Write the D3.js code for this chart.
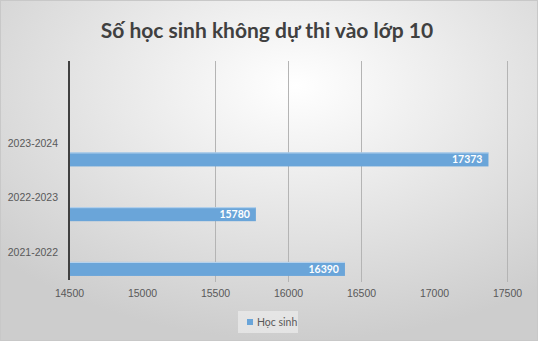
<!DOCTYPE html>
<html>
<head>
<meta charset="utf-8">
<script src="https://cdn.jsdelivr.net/npm/d3@7"></script>
<style>
  body { margin: 0; }
  svg { display: block; font-family: Lato, "Open Sans", sans-serif; }
</style>
</head>
<body>
<svg id="chart"></svg>
<script>
// data
const title = 'Số học sinh không dự thi vào lớp 10';
const seriesName = 'Học sinh';
const years = ['2021-2022', '2022-2023', '2023-2024'];
const students = [16390, 15780, 17373];
const xTicks = [14500, 15000, 15500, 16000, 16500, 17000, 17500];
// only these gridlines show in the original
const gridValues = [15500, 16000, 16500, 17500];

const width = 538;
const height = 341;
const barColor = '#6aa5d9';

const svg = d3.select('#chart')
  .attr('width', width)
  .attr('height', height);

// background: soft radial grey
const defs = svg.append('defs');
const bg = defs.append('radialGradient')
  .attr('id', 'bg')
  .attr('cx', '55%')
  .attr('cy', '25%')
  .attr('r', '75%');
bg.append('stop').attr('offset', '0%').attr('stop-color', '#ffffff');
bg.append('stop').attr('offset', '100%').attr('stop-color', '#cdcdcd');

svg.append('rect')
  .attr('x', 0.5)
  .attr('y', 0.5)
  .attr('width', width - 1)
  .attr('height', height - 1)
  .attr('fill', 'url(#bg)')
  .attr('stroke', '#c8c8c8');

const plot = { top: 61, bottom: 280, left: 69, right: 507 };

const x = d3.scaleLinear()
  .domain([xTicks[0], xTicks[xTicks.length - 1]])
  .range([plot.left, plot.right]);

// four slots on the axis, the top one is left empty
const slot = (plot.bottom - plot.top) / 4;
const y = d3.scaleBand()
  .domain(years)
  .range([plot.bottom, plot.bottom - slot * years.length]);

const data = years.map((d, i) => ({ year: d, value: students[i] }));

// gridlines
svg.append('g')
  .selectAll('line')
  .data(gridValues)
  .join('line')
  .attr('x1', d => Math.round(x(d)) + 0.5)
  .attr('x2', d => Math.round(x(d)) + 0.5)
  .attr('y1', plot.top)
  .attr('y2', plot.bottom + 2)
  .attr('stroke', '#b4b4b4')
  .attr('stroke-width', 1);

// x axis labels
const xAxis = d3.axisBottom(x)
  .tickValues(xTicks)
  .tickFormat(d3.format('d'))
  .tickSize(0)
  .tickPadding(10);
const gx = svg.append('g')
  .attr('transform', `translate(0,${plot.bottom})`)
  .call(xAxis);
gx.select('.domain').remove();
gx.selectAll('text')
  .attr('fill', '#595959')
  .style('font-size', '10.5px');

// y axis labels (centred on slot, bars sit in lower part)
const yAxis = d3.axisLeft(y).tickSize(0).tickPadding(11);
const gy = svg.append('g')
  .attr('transform', `translate(${plot.left},0)`)
  .call(yAxis);
gy.select('.domain').remove();
gy.selectAll('text')
  .attr('fill', '#595959')
  .style('font-size', '10.5px');

// bars
const barH = 14;
const bars = svg.append('g')
  .selectAll('g')
  .data(data)
  .join('g')
  .attr('transform', d => `translate(0,${y(d.year) + y.bandwidth() * 0.67})`);

bars.append('rect')
  .attr('x', plot.left)
  .attr('y', 0)
  .attr('width', d => x(d.value) - plot.left)
  .attr('height', barH)
  .attr('fill', barColor);

bars.append('line')
  .attr('x1', plot.left)
  .attr('x2', d => x(d.value))
  .attr('y1', 0.5)
  .attr('y2', 0.5)
  .attr('stroke', '#bcd6ee');

bars.append('text')
  .attr('x', d => x(d.value) - 6)
  .attr('y', barH / 2)
  .attr('dy', '0.35em')
  .attr('text-anchor', 'end')
  .attr('fill', '#ffffff')
  .style('font-size', '10.5px')
  .style('font-weight', 'bold')
  .text(d => d.value);

// vertical axis line
svg.append('line')
  .attr('x1', plot.left)
  .attr('x2', plot.left)
  .attr('y1', plot.top)
  .attr('y2', plot.bottom)
  .attr('stroke', '#404040')
  .attr('stroke-width', 2);

// title
svg.append('text')
  .attr('x', 267)
  .attr('y', 38)
  .attr('text-anchor', 'middle')
  .attr('fill', '#404040')
  .style('font-size', '21px')
  .style('font-weight', 'bold')
  .text(title);

// legend
const legend = svg.append('g').attr('transform', 'translate(238,311)');
legend.append('rect')
  .attr('width', 60)
  .attr('height', 22)
  .attr('fill', '#ececec')
  .attr('opacity', 0.7);
legend.append('rect')
  .attr('x', 9)
  .attr('y', 8)
  .attr('width', 6)
  .attr('height', 6)
  .attr('fill', barColor);
legend.append('text')
  .attr('x', 19)
  .attr('y', 11)
  .attr('dy', '0.35em')
  .attr('fill', '#595959')
  .style('font-size', '10.5px')
  .text(seriesName);
</script>
</body>
</html>
